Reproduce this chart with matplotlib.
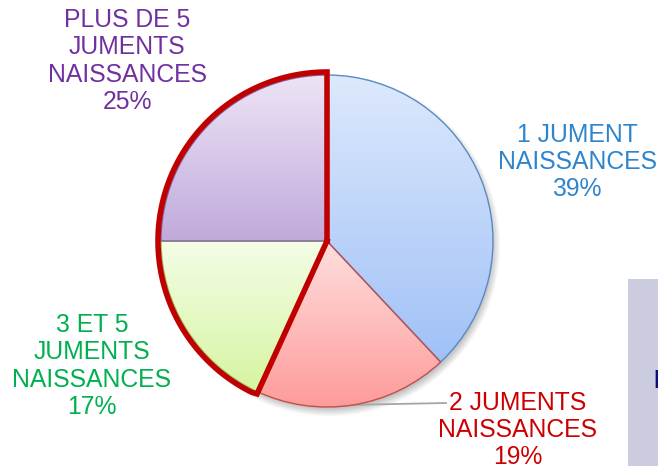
import numpy as np
import matplotlib.pyplot as plt
from matplotlib.colors import to_rgb
from matplotlib.patches import Rectangle

plt.rcParams['font.family'] = ['Liberation Sans', 'DejaVu Sans']

# slice data (clockwise from top)
names = ['1 JUMENT\nNAISSANCES', '2 JUMENTS\nNAISSANCES',
         '3 ET 5\nJUMENTS\nNAISSANCES', 'PLUS DE 5\nJUMENTS\nNAISSANCES']
shares = [38, 19, 18, 25]
pct_labels = ['39%', '19%', '17%', '25%']

top_colors = ['#dde9fc', '#ffdede', '#f4fde6', '#ede4f6']
bottom_colors = ['#a0c1f7', '#fd9c9a', '#d6f5a2', '#c0aadb']
edge_colors = ['#5a8ac6', '#c0504d', '#9bbb59', '#8064a2']
text_colors = ['#2e85cc', '#cc0000', '#00b050', '#7030a0']
label_xy = [(577, 162), (518, 430), (92, 366), (127, 61)]

cx, cy, R = 327, 241, 166

fig = plt.figure(figsize=(6.58, 4.66), dpi=100)
ax = fig.add_axes([0, 0, 1, 1])

# soft shadow under the pie
gx, gy = np.meshgrid(np.arange(0, 658), np.arange(0, 466))
d = np.hypot(gx - (cx + 2), gy - (cy + 4))
alpha = np.clip((R + 5 - d) / 9, 0, 1) * 0.45
shadow = np.zeros((466, 658, 4))
shadow[..., :3] = 0.45
shadow[..., 3] = alpha
ax.imshow(shadow, extent=(0, 658, 466, 0), zorder=0.5, interpolation='bilinear')

# pixel coordinates, y down -> counterclock in data looks clockwise
wedges, _ = ax.pie(shares, center=(cx, cy), radius=R, startangle=-90,
                   counterclock=True,
                   wedgeprops=dict(linewidth=1.0))
for w, c0, c1, ec in zip(wedges, top_colors, bottom_colors, edge_colors):
    w.set_facecolor('none')
    w.set_edgecolor(ec)
    w.set_zorder(3)
    ext = w.get_path().get_extents()
    t = np.linspace(0, 1, 128)[:, None, None]
    grad = (1 - t) * np.array(to_rgb(c0)) + t * np.array(to_rgb(c1))
    im = ax.imshow(grad, extent=(ext.x0, ext.x1, ext.y1, ext.y0),
                   aspect='auto', zorder=2, interpolation='bilinear')
    im.set_clip_path(w)

# red highlight around the last two slices
start = -90 + 360 * sum(shares[:2]) / sum(shares)
ang = np.radians(np.linspace(start, 270, 120))
hx = np.concatenate([[cx], cx + 169 * np.cos(ang), [cx]])
hy = np.concatenate([[cy], cy + 169 * np.sin(ang), [cy]])
hx[1] += 2
ax.plot(hx, hy, color='#c00000', lw=4.0, solid_joinstyle='miter', zorder=5)

# leader line for the bottom label
ax.plot([345, 446], [405, 403], color='#a6a6a6', lw=1.3, zorder=1)

for name, pct, (x, y), col in zip(names, pct_labels, label_xy, text_colors):
    ax.text(x, y, name + '\n' + pct, ha='center', va='center', color=col,
            fontsize=17.8, linespacing=1.17, zorder=6)

# grey panel at the right edge
ax.add_patch(Rectangle((628, 279), 40, 190, facecolor='#cbcce0', edgecolor='none', zorder=1))
ax.text(653, 381, 'I', color='#0d0d80', fontsize=18, fontweight='bold',
        ha='left', va='center', zorder=2)

ax.set_xlim(0, 658)
ax.set_ylim(466, 0)
ax.set_aspect('auto')
ax.axis('off')

fig.savefig('out.png', dpi=100)
